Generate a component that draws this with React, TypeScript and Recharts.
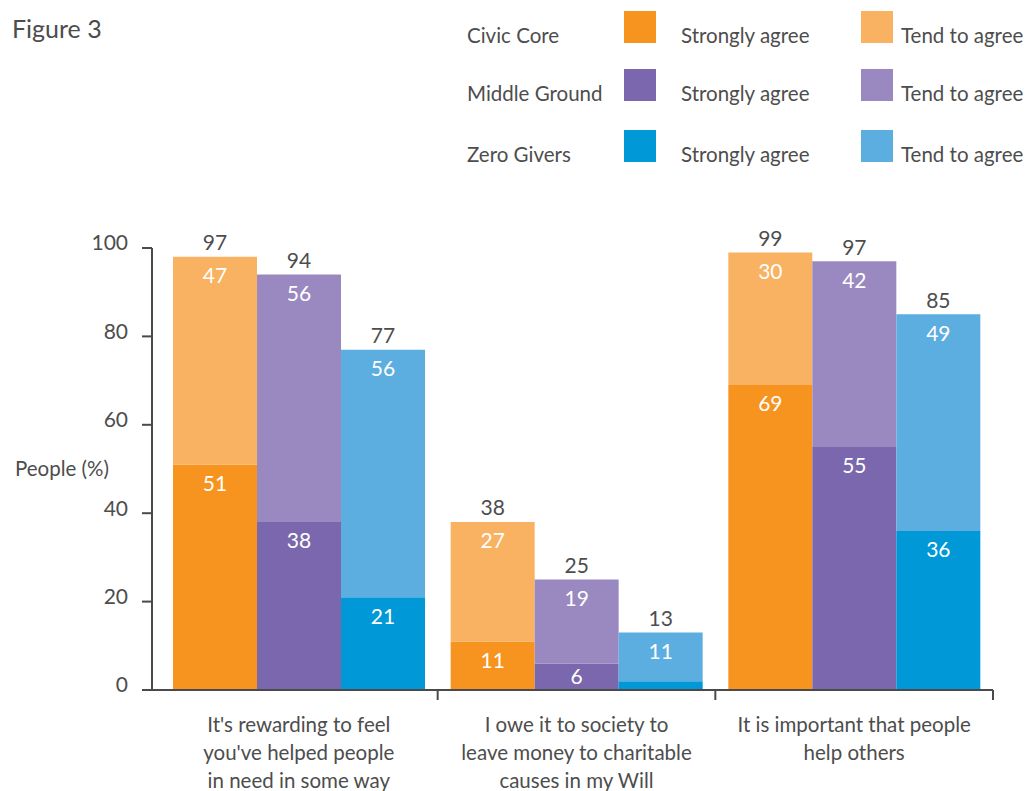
import React from 'react';
import { BarChart, Bar, XAxis, YAxis, LabelList, Label } from 'recharts';

// statements shown along the x axis, one entry per line of text
const categories = [
  ["It's rewarding to feel", "you've helped people", 'in need in some way'],
  ['I owe it to society to', 'leave money to charitable', 'causes in my Will'],
  ['It is important that people', 'help others'],
];

const groups = ['Civic Core', 'Middle Ground', 'Zero Givers'];

const civicStrongly = [51, 11, 69];
const civicTend = [47, 27, 30];
const civicTotal = [97, 38, 99];

const middleStrongly = [38, 6, 55];
const middleTend = [56, 19, 42];
const middleTotal = [94, 25, 97];

const zeroStrongly = [21, 2, 36];
const zeroTend = [56, 11, 49];
const zeroTotal = [77, 13, 85];

const yTicks = [0, 20, 40, 60, 80, 100];

const TEXT = '#4d4d4d';
const AXIS = '#4a4a4a';
const FONT = 'Lato, "Open Sans", sans-serif';

const palette = [
  { strongFill: '#f6941f', tendFill: '#f8b262' },
  { strongFill: '#7a67ad', tendFill: '#9a89c1' },
  { strongFill: '#0098d6', tendFill: '#5daee0' },
];

const data = categories.map((lines, i) => ({
  name: lines.join(' '),
  ccS: civicStrongly[i],
  ccT: civicTend[i],
  mgS: middleStrongly[i],
  mgT: middleTend[i],
  zgS: zeroStrongly[i],
  zgT: zeroTend[i],
}));

const stacks = [
  { id: 'cc', strongKey: 'ccS', tendKey: 'ccT', totals: civicTotal, ...palette[0] },
  { id: 'mg', strongKey: 'mgS', tendKey: 'mgT', totals: middleTotal, ...palette[1] },
  { id: 'zg', strongKey: 'zgS', tendKey: 'zgT', totals: zeroTotal, ...palette[2] },
];

const SegmentLabel = (props: any) => {
  const { x, y, width, height, value } = props;
  if (!height || height < 15) return null;
  const cy = Math.min(y + 19, y + height / 2);
  return (
    <text x={x + width / 2} y={cy} dy="0.35em" textAnchor="middle" fill="#fff" fontSize={21} fontFamily={FONT}>
      {value}
    </text>
  );
};

const totalLabel = (totals: number[]) => (props: any) => {
  const { x, y, width, index } = props;
  return (
    <text x={x + width / 2} y={y - 14} dy="0.35em" textAnchor="middle" fill={TEXT} fontSize={21} fontFamily={FONT}>
      {totals[index]}
    </text>
  );
};

const YTick = (props: any) => {
  const { x, y, payload } = props;
  return (
    <text x={x} y={y - 5} dy="0.35em" textAnchor="end" fill={TEXT} fontSize={21} fontFamily={FONT}>
      {payload.value}
    </text>
  );
};

const XTick = (props: any) => {
  const { x, y, payload, index } = props;
  const half = payload.offset ?? 0;
  const lines = categories[index] || [];
  return (
    <g>
      <line x1={x + half} x2={x + half} y1={y} y2={y + 10} stroke={AXIS} strokeWidth={2} />
      {lines.map((line, i) => (
        <text key={i} x={x} y={y + 35 + i * 28} dy="0.35em" textAnchor="middle" fill={TEXT} fontSize={20.5} fontFamily={FONT}>
          {line}
        </text>
      ))}
    </g>
  );
};

const legendText: React.CSSProperties = {
  position: 'absolute',
  transform: 'translateY(-50%)',
  whiteSpace: 'nowrap',
  lineHeight: 1,
};

const Legend = () => (
  <div style={{ position: 'absolute', left: 0, top: 0, fontFamily: FONT, fontSize: 20.5, color: TEXT }}>
    {groups.map((g, i) => {
      const top = [11, 69, 130][i];
      const mid = top + 24;
      return (
        <React.Fragment key={g}>
          <div style={{ ...legendText, left: 467, top: mid }}>{g}</div>
          <div style={{ position: 'absolute', left: 624, top, width: 32, height: 32, background: palette[i].strongFill }} />
          <div style={{ ...legendText, left: 681, top: mid }}>Strongly agree</div>
          <div style={{ position: 'absolute', left: 861, top, width: 32, height: 32, background: palette[i].tendFill }} />
          <div style={{ ...legendText, left: 901, top: mid }}>Tend to agree</div>
        </React.Fragment>
      );
    })}
  </div>
);

export default function App() {
  return (
    <div style={{ position: 'absolute', left: 0, top: 0, width: 1031, height: 791, background: '#fff', fontFamily: FONT }}>
      <div style={{ position: 'absolute', left: 12, top: 28, transform: 'translateY(-50%)', fontSize: 25, color: TEXT, lineHeight: 1 }}>
        Figure 3
      </div>
      <Legend />
      <BarChart
        width={1031}
        height={791}
        data={data}
        margin={{ top: 248, right: 38, bottom: 1, left: 0 }}
        barGap={0}
        barCategoryGap={13}
      >
        <XAxis
          dataKey="name"
          height={100}
          padding={{ left: 8, right: 0 }}
          axisLine={{ stroke: AXIS, strokeWidth: 2 }}
          tickLine={false}
          tickSize={0}
          tickMargin={0}
          interval={0}
          tick={<XTick />}
        />
        <YAxis
          width={152}
          domain={[0, 100]}
          ticks={yTicks}
          axisLine={{ stroke: AXIS, strokeWidth: 2 }}
          tickLine={{ stroke: AXIS, strokeWidth: 2 }}
          tickSize={10}
          tickMargin={14}
          tick={<YTick />}
        >
          <Label value="People (%)" position="insideLeft" offset={15} fill={TEXT} fontSize={20.5} fontFamily={FONT} />
        </YAxis>
        {stacks.flatMap((s) => [
          <Bar key={s.strongKey} dataKey={s.strongKey} stackId={s.id} fill={s.strongFill} isAnimationActive={false}>
            <LabelList dataKey={s.strongKey} content={<SegmentLabel />} />
          </Bar>,
          <Bar key={s.tendKey} dataKey={s.tendKey} stackId={s.id} fill={s.tendFill} isAnimationActive={false}>
            <LabelList dataKey={s.tendKey} content={<SegmentLabel />} />
            <LabelList dataKey={s.tendKey} content={totalLabel(s.totals)} />
          </Bar>,
        ])}
      </BarChart>
    </div>
  );
}
